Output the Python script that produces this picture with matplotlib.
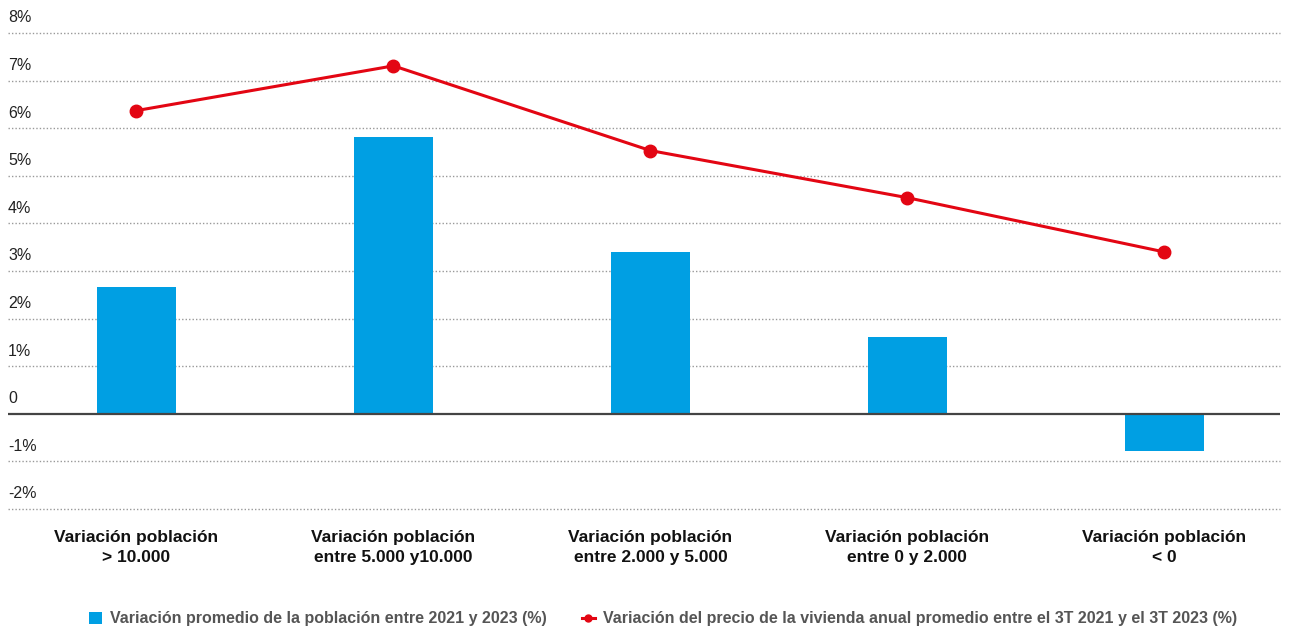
import numpy as np
import matplotlib.pyplot as plt
from matplotlib.lines import Line2D
from matplotlib.patches import Patch

plt.rcParams['font.family'] = ['Liberation Sans', 'DejaVu Sans']

# Data
categories = [
    "Variación población\n> 10.000",
    "Variación población\nentre 5.000 y10.000",
    "Variación población\nentre 2.000 y 5.000",
    "Variación población\nentre 0 y 2.000",
    "Variación población\n< 0",
]
poblacion = [2.67, 5.82, 3.40, 1.62, -0.78]
precio = [6.37, 7.31, 5.53, 4.54, 3.40]
y_ticks = [-2, -1, 0, 1, 2, 3, 4, 5, 6, 7, 8]

BLUE = '#009FE3'
RED = '#E30613'

fig = plt.figure(figsize=(12.95, 6.3), dpi=100)
ax = fig.add_axes([8 / 1295, 1 - 509 / 630, 1272 / 1295, 476 / 630])

x = np.arange(len(categories))
ax.bar(x, poblacion, width=0.31, color=BLUE, zorder=2)
ax.plot(x, precio, color=RED, linewidth=2.2, marker='o', markersize=9, zorder=3)

ax.set_xlim(-0.5, 4.45)
ax.set_ylim(-2, 8)

# dotted gridlines, solid zero line, labels sitting above each line
for v in y_ticks:
    if v == 0:
        ax.axhline(v, color='#444444', linewidth=1.6, zorder=4)
    else:
        ax.axhline(v, color='#999999', linewidth=1.0, linestyle=(0, (1, 1.5)),
                   zorder=1, clip_on=False)
    label = "0" if v == 0 else f"{v}%"
    ax.annotate(label, xy=(0, v), xycoords=('axes fraction', 'data'),
                xytext=(0, 5.5), textcoords='offset points',
                ha='left', va='bottom', fontsize=11.5, color='#222222')

ax.set_xticks([])
ax.set_yticks([])
for s in ax.spines.values():
    s.set_visible(False)

for i, c in enumerate(categories):
    ax.annotate(c, xy=(i, -2), xycoords='data', xytext=(0, -15),
                textcoords='offset points', ha='center', va='top',
                fontsize=12.5, fontweight='bold', color='#111111',
                linespacing=1.4)

handles = [
    Patch(facecolor=BLUE, edgecolor='none'),
    Line2D([0], [0], color=RED, linewidth=2.2, marker='o', markersize=5),
]
labels = [
    "Variación promedio de la población entre 2021 y 2023 (%)",
    "Variación del precio de la vivienda anual promedio entre el 3T 2021 y el 3T 2023 (%)",
]
leg = fig.legend(handles, labels, ncol=2, loc='center', bbox_to_anchor=(0.512, 1 - 619 / 630),
                 frameon=False, handlelength=0.8, handleheight=0.8, handletextpad=0.5,
                 columnspacing=2.2,
                 prop={'size': 11.5, 'weight': 'bold'})
for t in leg.get_texts():
    t.set_color('#555555')

fig.savefig('out.png', dpi=100)
